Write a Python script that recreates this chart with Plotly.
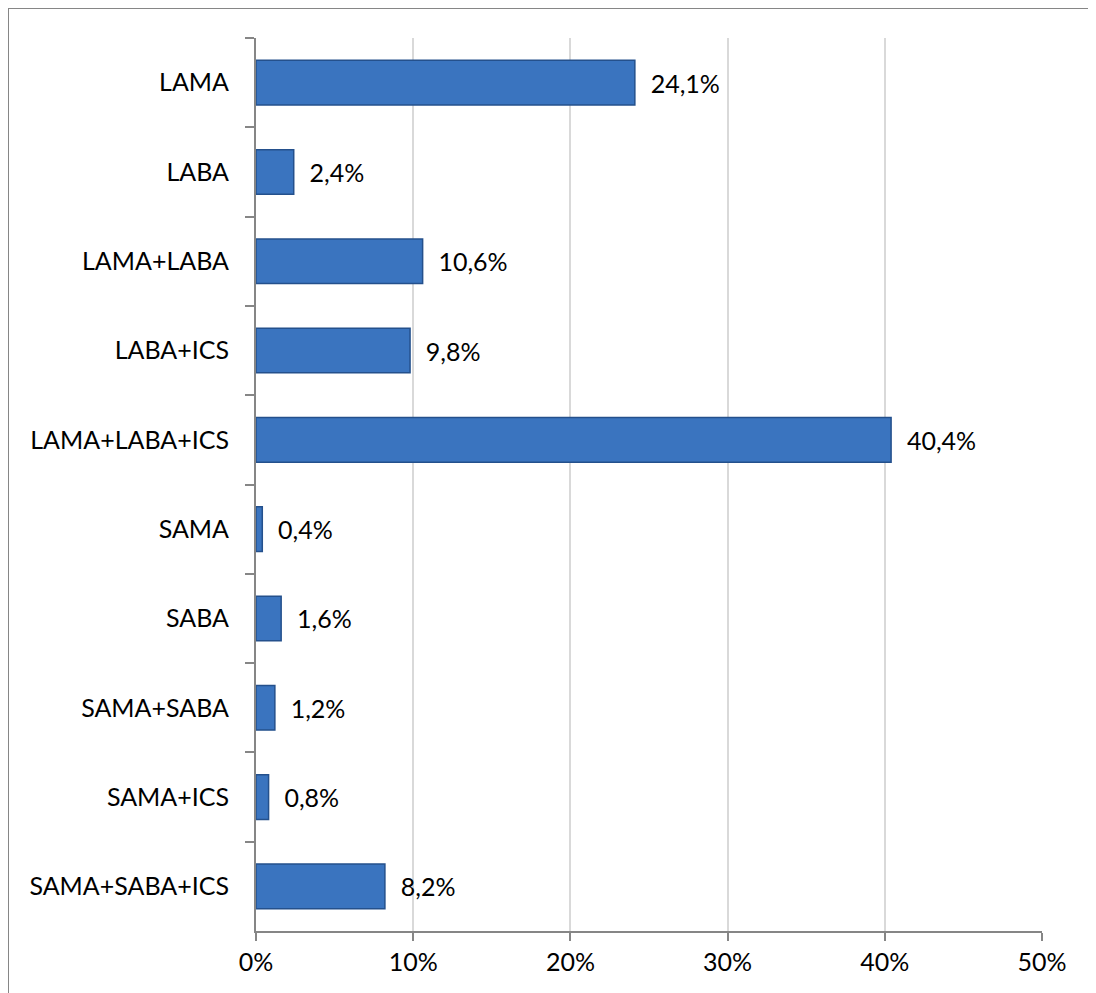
import plotly.graph_objects as go

categories = ["LAMA", "LABA", "LAMA+LABA", "LABA+ICS", "LAMA+LABA+ICS",
              "SAMA", "SABA", "SAMA+SABA", "SAMA+ICS", "SAMA+SABA+ICS"]
values = [24.1, 2.4, 10.6, 9.8, 40.4, 0.4, 1.6, 1.2, 0.8, 8.2]
x_ticks = [0, 10, 20, 30, 40, 50]
x_tick_labels = ["0%", "10%", "20%", "30%", "40%", "50%"]

FONT = "Lato, Open Sans, sans-serif"
FS = 25

fig = go.Figure()
fig.add_trace(go.Bar(
    y=categories,
    x=values,
    orientation="h",
    width=0.5,
    marker=dict(color="#3A74BF", line=dict(color="#24508C", width=1.5)),
    text=["\u00a0\u00a0" + f"{v:.1f}%".replace(".", ",") for v in values],
    textposition="outside",
    textfont=dict(size=FS, color="#000000", family=FONT),
    cliponaxis=False,
))

x_left = -248 / 786
y_top = 1 + 30 / 893
frame = dict(color="#868686", width=2)

fig.update_layout(
    width=1088, height=985,
    margin=dict(l=248, r=54, t=30, b=62),
    paper_bgcolor="white",
    plot_bgcolor="white",
    showlegend=False,
    font=dict(family=FONT, size=FS, color="#000000"),
    xaxis=dict(
        range=[0, 50],
        tickvals=x_ticks,
        ticktext=x_tick_labels,
        showgrid=True, gridcolor="#D9D9D9", gridwidth=1.5,
        showline=True, linecolor="#868686", linewidth=2,
        ticks="outside", ticklen=8, tickcolor="#868686", tickwidth=2,
        zeroline=False,
        automargin=False,
        tickfont=dict(size=FS, family=FONT, color="#000000"),
    ),
    yaxis=dict(
        autorange="reversed",
        showline=True, linecolor="#868686", linewidth=2,
        ticks="outside", ticklen=9, tickcolor="#868686", tickwidth=2,
        tickson="boundaries",
        showgrid=False,
        automargin=False,
        ticklabelstandoff=20,
        tickfont=dict(size=FS, family=FONT, color="#000000"),
    ),
    shapes=[
        dict(type="line", xref="paper", yref="paper",
             x0=x_left, x1=1.2, y0=y_top, y1=y_top, line=frame, layer="below"),
        dict(type="line", xref="paper", yref="paper",
             x0=x_left, x1=x_left, y0=-0.2, y1=y_top, line=frame, layer="below"),
    ],
)

fig.write_html("out.html")
